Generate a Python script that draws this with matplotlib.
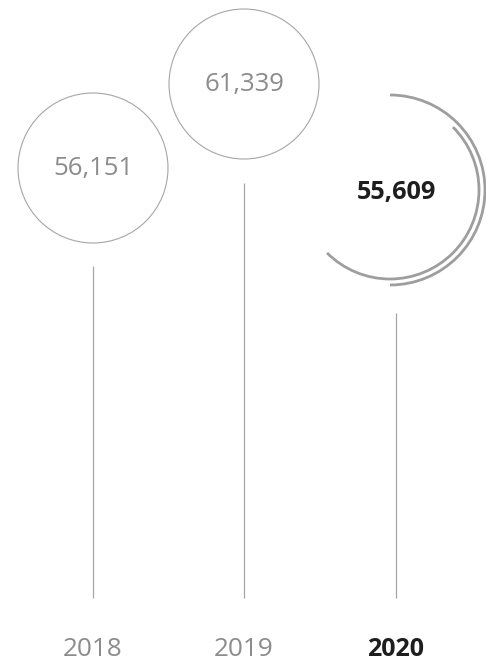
import matplotlib
matplotlib.use("Agg")
import matplotlib.pyplot as plt
from matplotlib.patches import Circle, Arc

# data
years = ["2018", "2019", "2020"]
values = [56151, 61339, 55609]

# layout (pixel units, y grows downwards)
x_pos = [93, 244, 390]
bubble_y = [168, 84, 190]
radius = 75
stem_top = [266, 183, 313]
stem_bottom = 598
label_y = 649

grey_txt = "#8c8c8c"
grey_line = "#a6a6a6"
dark = "#1e1e1e"

fig = plt.figure(figsize=(4.86, 6.66), dpi=100)
ax = fig.add_axes([0, 0, 1, 1])
ax.set_xlim(0, 486)
ax.set_ylim(666, 0)
ax.set_aspect("equal")
ax.axis("off")

plt.rcParams["font.family"] = ["Open Sans", "DejaVu Sans"]

for i, (yr, val) in enumerate(zip(years, values)):
    x = x_pos[i]
    cy = bubble_y[i]
    last = i == len(years) - 1
    # stem
    ax.plot([x + (6 if last else 0)] * 2, [stem_top[i], stem_bottom],
            color=grey_line, linewidth=0.9, solid_capstyle="butt")
    if not last:
        ax.add_patch(Circle((x, cy), radius, fill=False,
                            edgecolor=grey_line, linewidth=0.8))
        ax.text(x, cy, f"{val:,}", ha="center", va="center",
                fontsize=18.5, color=grey_txt, fontweight="normal")
        ax.text(x, label_y, yr, ha="center", va="center",
                fontsize=18.8, color=grey_txt, fontweight="normal")
    else:
        # highlighted year: two open arcs
        ax.add_patch(Arc((x, cy), 2 * 89, 2 * 89, theta1=-45, theta2=135,
                         edgecolor="#9e9e9e", linewidth=2))
        ax.add_patch(Arc((x, cy), 2 * 95, 2 * 95, theta1=-90, theta2=90,
                         edgecolor="#9e9e9e", linewidth=2))
        ax.text(x + 6, cy + 2, f"{val:,}", ha="center", va="center",
                fontsize=18.2, color=dark, fontweight="bold")
        ax.text(x + 6, label_y, yr, ha="center", va="center",
                fontsize=18, color=dark, fontweight="bold")

plt.savefig("out.png", dpi=100)
